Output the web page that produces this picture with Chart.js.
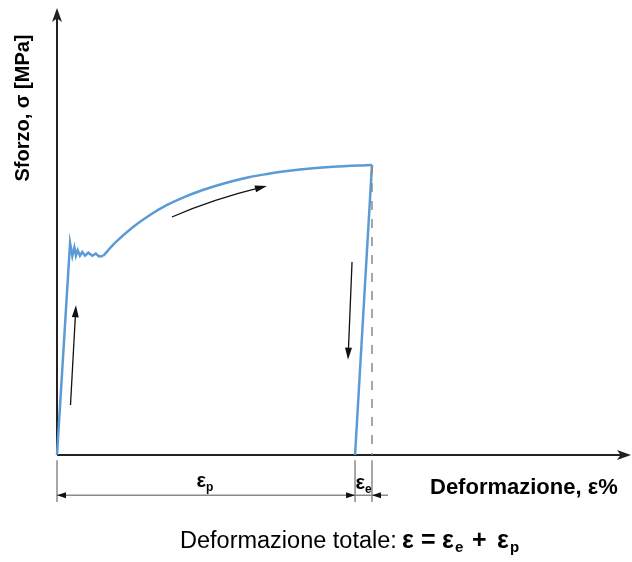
<!DOCTYPE html>
<html>
<head>
<meta charset="utf-8">
<script src="https://cdn.jsdelivr.net/npm/chart.js@4/dist/chart.umd.min.js"></script>
<style>
  html, body { margin: 0; padding: 0; background: #fff; }
  canvas { display: block; }
</style>
</head>
<body>
<canvas id="chart" width="632" height="562"></canvas>
<script>
// elastic loading + yield zigzag (strain %, stress MPa - schematic units)
const loadX = [0, 0.91, 1.07, 1.21, 1.32, 1.44, 1.60, 1.76, 1.95, 2.18, 2.46, 2.70, 2.93, 3.21];
const loadY = [0, 284.6, 267.0, 278.5, 267.5, 275.0, 267.5, 272.5, 267.5, 271.5, 267.5, 270.5, 266.5, 267.1];

// strain hardening up to the unloading point
const hardX = [3.21, 4.04, 5.30, 6.48, 7.67, 8.78, 9.97, 11.15, 12.27, 13.45, 14.63, 15.75, 16.93, 19.23, 21.95];
const hardY = [267.1, 284.6, 306.0, 322.1, 335.6, 345.6, 354.4, 361.7, 367.8, 373.2, 377.2, 380.5, 383.2, 386.8, 389.3];

// elastic unloading
const unloadX = [21.95, 20.77];
const unloadY = [389.3, 0];

// strains at the end: plastic (residual) and total
const epsPlastic = 20.77;
const epsTotal = 21.95;
const dimLevel = -54;          // stress level of the dimension lines
const dimTick = [-7, -63];     // extent of the witness lines

// direction arrows [x, y] in data units
const arrowUp = [[0.94, 67], [1.32, 201]];
const arrowHard = [[8.01, 319.5], [11.13, 342], [14.63, 361]];
const arrowDown = [[20.56, 259], [20.28, 128]];

const BLUE = '#5b9bd5';
const AXIS = '#222';
const DIM = '#8a8a8a';
const FONT = '"Liberation Sans", Arial, sans-serif';

const pts = (xs, ys) => xs.map((x, i) => ({ x, y: ys[i] }));

function head(ctx, tx, ty, ang, len, w, notch) {
  ctx.save();
  ctx.translate(tx, ty);
  ctx.rotate(ang);
  ctx.beginPath();
  ctx.moveTo(0, 0);
  ctx.lineTo(-len, -w / 2);
  ctx.lineTo(-len * (1 - (notch || 0)), 0);
  ctx.lineTo(-len, w / 2);
  ctx.closePath();
  ctx.fill();
  ctx.restore();
}

function epsLabel(ctx, cx, baseY, sub, size) {
  ctx.font = 'bold ' + size + 'px ' + FONT;
  const w1 = ctx.measureText('ε').width;
  ctx.font = 'bold ' + Math.round(size * 0.62) + 'px ' + FONT;
  const w2 = ctx.measureText(sub).width;
  let x = cx - (w1 + w2) / 2;
  ctx.textAlign = 'left';
  ctx.textBaseline = 'alphabetic';
  ctx.font = 'bold ' + size + 'px ' + FONT;
  ctx.fillText('ε', x, baseY);
  ctx.font = 'bold ' + Math.round(size * 0.62) + 'px ' + FONT;
  ctx.fillText(sub, x + w1, baseY + 4);
}

const decor = {
  id: 'decor',
  beforeDatasetsDraw(chart) {
    const { ctx, scales: { x, y } } = chart;
    const ox = x.getPixelForValue(0), oy = y.getPixelForValue(0);
    const right = chart.chartArea.right, top = chart.chartArea.top;
    ctx.save();
    ctx.strokeStyle = AXIS;
    ctx.fillStyle = AXIS;
    ctx.lineWidth = 2;
    ctx.beginPath();
    ctx.moveTo(ox, oy);
    ctx.lineTo(ox, top + 8);
    ctx.moveTo(ox, oy);
    ctx.lineTo(right - 8, oy);
    ctx.stroke();
    head(ctx, ox, top, -Math.PI / 2, 14, 10, 0.25);
    head(ctx, right, oy, 0, 14, 10, 0.25);
    ctx.restore();
  },
  afterDatasetsDraw(chart) {
    const { ctx, scales: { x, y } } = chart;
    const px = v => x.getPixelForValue(v), py = v => y.getPixelForValue(v);
    ctx.save();

    // direction arrows
    ctx.strokeStyle = '#111';
    ctx.fillStyle = '#111';
    ctx.lineWidth = 1.3;
    [arrowUp, arrowDown].forEach(a => {
      const x0 = px(a[0][0]), y0 = py(a[0][1]), x1 = px(a[1][0]), y1 = py(a[1][1]);
      const ang = Math.atan2(y1 - y0, x1 - x0);
      ctx.beginPath();
      ctx.moveTo(x0, y0);
      ctx.lineTo(x1 - 8 * Math.cos(ang), y1 - 8 * Math.sin(ang));
      ctx.stroke();
      head(ctx, x1, y1, ang, 12, 7, 0);
    });
    {
      const p = arrowHard.map(a => [px(a[0]), py(a[1])]);
      const cx = 2 * p[1][0] - (p[0][0] + p[2][0]) / 2;
      const cy = 2 * p[1][1] - (p[0][1] + p[2][1]) / 2;
      const ang = Math.atan2(p[2][1] - cy, p[2][0] - cx);
      ctx.beginPath();
      ctx.moveTo(p[0][0], p[0][1]);
      ctx.quadraticCurveTo(cx, cy, p[2][0] - 8 * Math.cos(ang), p[2][1] - 8 * Math.sin(ang));
      ctx.stroke();
      head(ctx, p[2][0], p[2][1], ang, 12, 7, 0);
    }

    // dimension lines
    const xs = [0, epsPlastic, epsTotal].map(px);
    const dy = py(dimLevel);
    ctx.strokeStyle = DIM;
    ctx.lineWidth = 1.5;
    ctx.beginPath();
    xs.forEach(v => { ctx.moveTo(v, py(dimTick[0])); ctx.lineTo(v, py(dimTick[1])); });
    ctx.moveTo(xs[0], dy);
    ctx.lineTo(xs[2] + 16, dy);
    ctx.stroke();
    ctx.fillStyle = '#111';
    head(ctx, xs[0], dy, Math.PI, 9, 6, 0);
    head(ctx, xs[1], dy, 0, 9, 6, 0);
    head(ctx, xs[2], dy, Math.PI, 9, 6, 0);

    // labels
    ctx.fillStyle = '#000';
    epsLabel(ctx, (xs[0] + xs[1]) / 2 - 1, 487, 'p', 20);
    epsLabel(ctx, (xs[1] + xs[2]) / 2, 489, 'e', 20);

    ctx.font = 'bold 22px ' + FONT;
    ctx.textAlign = 'left';
    ctx.textBaseline = 'alphabetic';
    ctx.fillText('Deformazione, ε%', 430, 494);

    ctx.font = 'bold 20px ' + FONT;
    ctx.save();
    ctx.translate(23, 108);
    ctx.rotate(-Math.PI / 2);
    ctx.textAlign = 'center';
    ctx.textBaseline = 'middle';
    ctx.fillText('Sforzo, σ [MPa]', 0, 0);
    ctx.restore();

    // total strain formula
    ctx.font = 'normal 23.5px ' + FONT;
    ctx.fillText('Deformazione totale:', 180, 548);
    const parts = [
      ['bold 25px ', 'ε', 402, 0],
      ['bold 25px ', '=', 421, 0],
      ['bold 25px ', 'ε', 442, 0],
      ['bold 15px ', 'e', 455, 4],
      ['bold 25px ', '+', 472, 0],
      ['bold 25px ', 'ε', 497, 0],
      ['bold 15px ', 'p', 510, 4]
    ];
    parts.forEach(([f, t, tx, off]) => {
      ctx.font = f + FONT;
      ctx.fillText(t, tx, 548 + off);
    });
    ctx.restore();
  }
};

new Chart(document.getElementById('chart'), {
  type: 'scatter',
  data: {
    datasets: [
      {
        data: pts([epsTotal, epsTotal], [hardY[hardY.length - 1], 0]),
        showLine: true, borderColor: DIM, borderWidth: 1.5, borderDash: [9, 9],
        pointRadius: 0, clip: false
      },
      {
        data: pts(loadX, loadY),
        showLine: true, borderColor: BLUE, borderWidth: 2.5, tension: 0,
        pointRadius: 0, clip: false
      },
      {
        data: pts(hardX, hardY),
        showLine: true, borderColor: BLUE, borderWidth: 2.5,
        cubicInterpolationMode: 'monotone', pointRadius: 0, clip: false
      },
      {
        data: pts(unloadX, unloadY),
        showLine: true, borderColor: BLUE, borderWidth: 2.5, tension: 0,
        pointRadius: 0, clip: false
      }
    ]
  },
  options: {
    responsive: false,
    animation: false,
    layout: { padding: { left: 57, top: 8, right: 1, bottom: 107 } },
    plugins: { legend: { display: false }, tooltip: { enabled: false } },
    scales: {
      x: { type: 'linear', min: 0, max: 40, display: false },
      y: { type: 'linear', min: 0, max: 600, display: false }
    }
  },
  plugins: [decor]
});
</script>
</body>
</html>
